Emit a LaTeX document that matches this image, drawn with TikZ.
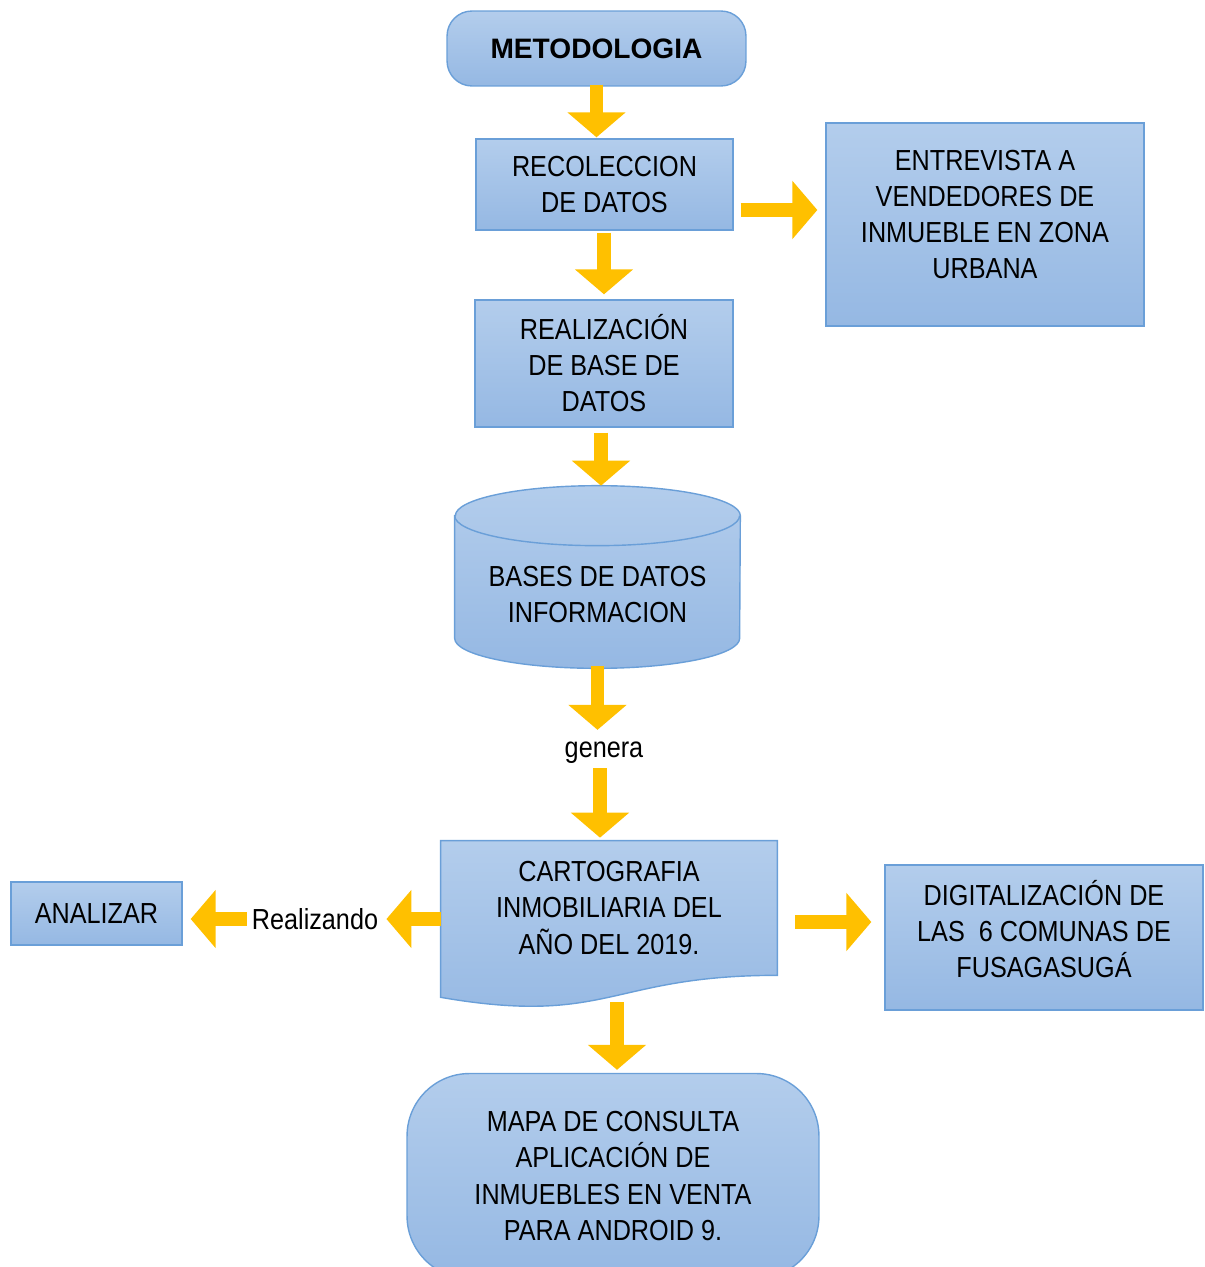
\documentclass[tikz,border=0pt]{standalone}
\usepackage{fontspec}
\setmainfont{Liberation Sans}[FakeStretch=0.87]
\newfontfamily\titulo{Liberation Sans}
\usetikzlibrary{arrows.meta,backgrounds}
\definecolor{azulclaro}{HTML}{B3CDEC}
\definecolor{azul}{HTML}{95B8E3}
\definecolor{borde}{HTML}{6A9FD8}
\definecolor{oro}{HTML}{FFC000}

\begin{document}
\begin{tikzpicture}[x=0.02cm, y=-0.02cm]
	\tikzset{caja/.style={draw=borde, line width=0.8pt, top color=azulclaro, bottom color=azul, align=center, inner sep=0pt, font=\fontsize{16.5}{20.5}\selectfont},
		forma/.style={draw=none, inner sep=0pt},
		fondo/.style={draw=borde, line width=0.8pt, top color=azulclaro, bottom color=azul},
		texto/.style={align=center, inner sep=0pt, font=\fontsize{16.5}{20.5}\selectfont},
		flecha/.style={draw=oro, line width=0.27cm, -{Triangle[width=1.14cm, length=0.5cm]}}};
	\useasboundingbox (0,0) rectangle (1204,1267);

	\node[caja, rounded corners=0.5cm, minimum width=5.98cm, minimum height=1.5cm, font=\titulo\bfseries\fontsize{16}{20.5}\selectfont] (metodo) at (596.5,48.5) {METODOLOGIA};
	\node[caja, minimum width=5.14cm, minimum height=1.82cm] (recol) at (604.5,184.5) {RECOLECCION\\DE DATOS};
	\node[caja, minimum width=6.36cm, minimum height=4.06cm, text depth=0.4cm] (entrev) at (985,224.5) {ENTREVISTA A\\VENDEDORES DE\\INMUEBLE EN ZONA\\URBANA};
	\node[caja, minimum width=5.16cm, minimum height=2.54cm] (realiz) at (604,363.5) {REALIZACIÓN\\DE BASE DE\\DATOS};
	\node[forma, minimum width=5.7cm, minimum height=2.44cm] (bases) at (597.5,577) {};
	\node[texto] (basestxt) at ([yshift=-0.36cm]bases.center) {BASES DE DATOS\\INFORMACION};
	\node[texto] (genera) at (604,753) {genera};
	\node[forma, texto, minimum width=6.72cm, minimum height=2.68cm] (carto) at (609,908) {CARTOGRAFIA\\INMOBILIARIA DEL\\AÑO DEL 2019.};
	\node[texto] (real) at (315,919) {Realizando};
	\node[caja, minimum width=3.42cm, minimum height=1.26cm] (analizar) at (96.5,913.5) {ANALIZAR};
	\node[caja, minimum width=6.36cm, minimum height=2.9cm, text depth=0.36cm] (digital) at (1044,937.5) {DIGITALIZACIÓN DE\\LAS\ \ 6 COMUNAS DE\\FUSAGASUGÁ};
	\node[caja, rounded corners=1.25cm, minimum width=8.24cm, minimum height=4.1cm] (mapa) at (613,1176) {MAPA DE CONSULTA\\APLICACIÓN DE\\INMUEBLES EN VENTA\\PARA ANDROID 9.};

	% cilindro y documento
	\begin{scope}[on background layer]
		\path[fondo] (bases.north west) -- (bases.south west) arc[start angle=180, end angle=360, x radius=2.85cm, y radius=0.6cm] -- (bases.north east) arc[start angle=0, end angle=180, x radius=2.85cm, y radius=0.6cm] -- cycle;
		\draw[borde, line width=0.8pt] (bases.north west) arc[start angle=180, end angle=360, x radius=2.85cm, y radius=0.6cm];
		\path[fondo] (carto.north west) -- (carto.north east) -- (carto.south east) .. controls (carto.south) and ([yshift=-1.02cm]carto.south) .. ([yshift=-0.44cm]carto.south west) -- cycle;
	\end{scope}

	\draw[flecha, shorten <=-0.04cm, shorten >=0.02cm] (metodo.south) -- (metodo.south |- recol.north);
	\draw[flecha, shorten <=0.14cm, shorten >=0.16cm] ([yshift=-0.51cm]recol.east) -- ([yshift=-0.51cm]recol.east -| entrev.west);
	\draw[flecha, shorten <=0.04cm, shorten >=0.1cm] (realiz.north |- recol.south) -- (realiz.north);
	\draw[flecha, shorten <=0.1cm, shorten >=0.6cm] ([xshift=-0.06cm]realiz.south) -- ([xshift=-0.06cm]realiz.south |- bases.north);
	\draw[flecha, shorten <=0.56cm, shorten >=0.24cm] (bases.south) -- (bases.south |- genera.north);
	\draw[flecha, shorten <=0.08cm, shorten >=0.06cm] ([xshift=-0.08cm]genera.south) -- ([xshift=-0.08cm]genera.south |- carto.north);
	\draw[flecha, shorten >=0.16cm] (real -| carto.west) -- (real.east);
	\draw[flecha, shorten <=0.1cm, shorten >=0.16cm] (real.west) -- (real.west -| analizar.east);
	\draw[flecha, shorten <=0.36cm, shorten >=0.26cm] ([yshift=-0.28cm]carto.east) -- ([yshift=-0.28cm]carto.east -| digital.west);
	\draw[flecha, shorten <=0.54cm, shorten >=0.06cm] ([xshift=0.16cm]carto.south) -- ([xshift=0.16cm]carto.south |- mapa.north);
\end{tikzpicture}
\end{document}
